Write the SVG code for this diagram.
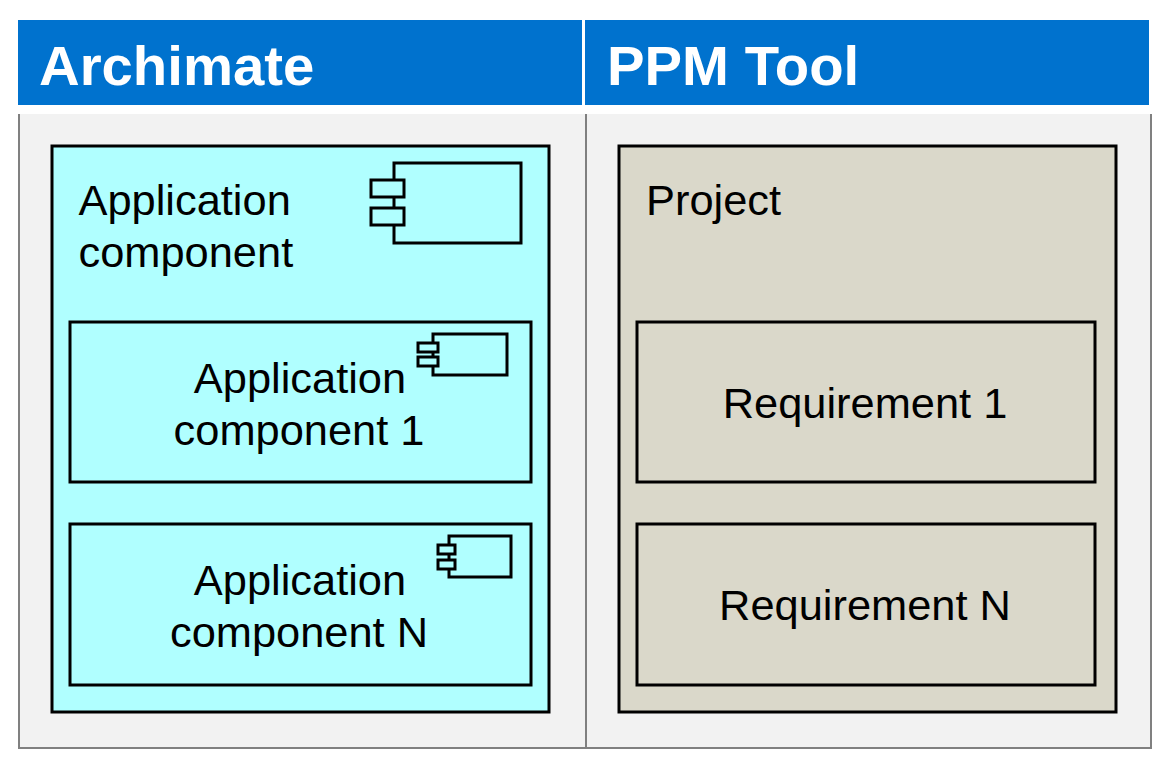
<svg xmlns="http://www.w3.org/2000/svg" width="1170" height="765" viewBox="0 0 1170 765">
<style>
text{font-family:"Liberation Sans",Arial,sans-serif}
.h{fill:#0072ce}
.ht{fill:#fff;font-weight:bold;font-size:56.3px}
.t{fill:#000;font-size:43.4px}
.m{text-anchor:middle}
.b{stroke:#000;stroke-width:3}
.c{fill:#b0ffff}
.p{fill:#dad8ca}
.i{fill:#b0ffff;stroke:#000;stroke-width:3}
.s{fill:none;stroke:#808080;stroke-width:2}
</style>
<rect width="1170" height="765" fill="#fff"/>
<g id="panels">
<rect x="19" y="114" width="1132" height="634" fill="#f2f2f2"/>
<path class="s" d="M19 114V748H1151V114M586 114V748"/>
</g>
<g id="header-archimate"><rect class="h" x="18" y="20" width="564" height="85"/><text class="ht" x="39" y="85">Archimate</text></g>
<g id="header-ppm"><rect class="h" x="585" y="20" width="564" height="85"/><text class="ht" x="607" y="85">PPM Tool</text></g>
<g id="application-component">
<rect class="b c" x="52" y="146" width="497" height="566"/>
<text class="t" x="78.5" y="215">Application</text><text class="t" x="78.5" y="267">component</text>
<path class="i" d="M394 163H521V243H394Z"/><rect class="i" x="371" y="180" width="33" height="17"/><rect class="i" x="371" y="208" width="33" height="17"/>
</g>
<g id="application-component-1">
<rect class="b c" x="70" y="322" width="461" height="160"/>
<text class="t m" x="300" y="393">Application</text><text class="t m" x="299" y="445">component 1</text>
<path class="i" d="M433 334H507V375H433Z"/><rect class="i" x="418" y="343" width="20" height="9"/><rect class="i" x="418" y="357" width="20" height="9"/>
</g>
<g id="application-component-n">
<rect class="b c" x="70" y="524" width="461" height="161"/>
<text class="t m" x="300" y="595">Application</text><text class="t m" x="299" y="647">component N</text>
<path class="i" d="M449 536H511V577H449Z"/><rect class="i" x="438" y="545" width="17" height="9"/><rect class="i" x="438" y="560" width="17" height="9"/>
</g>
<g id="project">
<rect class="b p" x="619" y="146" width="497" height="566"/>
<text class="t" x="646" y="215">Project</text>
</g>
<g id="requirement-1">
<rect class="b p" x="637" y="322" width="458" height="160"/>
<text class="t m" x="865" y="418">Requirement 1</text>
</g>
<g id="requirement-n">
<rect class="b p" x="637" y="524" width="458" height="161"/>
<text class="t m" x="865" y="620">Requirement N</text>
</g>
<g id="connectors"/>
</svg>
